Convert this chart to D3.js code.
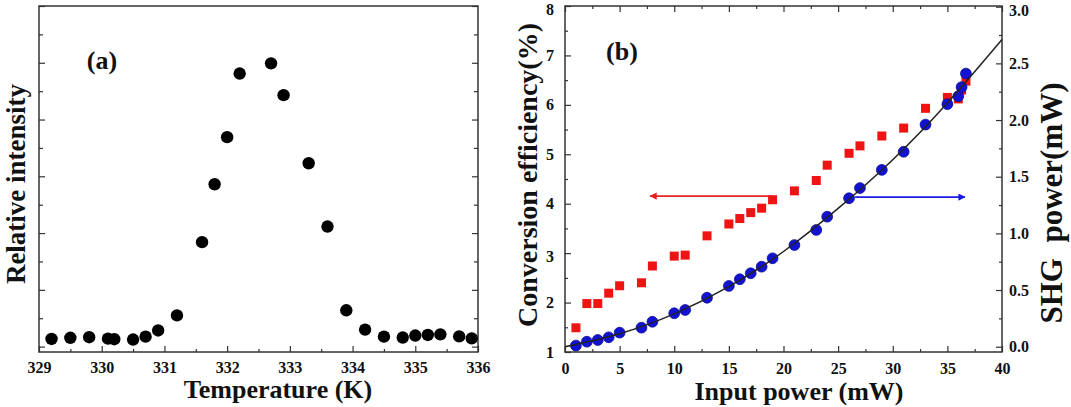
<!DOCTYPE html>
<html>
<head>
<meta charset="utf-8">
<script src="https://cdn.jsdelivr.net/npm/d3@7.9.0/dist/d3.min.js"></script>
<style>
  body { margin: 0; background: #fff; }
</style>
</head>
<body>
<svg width="1071" height="407"></svg>
<script>
// panel (a): temperature tuning curve
const tempK = [329.2, 329.5, 329.8, 330.1, 330.2, 330.5, 330.7, 330.9, 331.2, 331.6, 331.8, 332.0, 332.2,
  332.7, 332.9, 333.3, 333.6, 333.9, 334.2, 334.5, 334.8, 335.0, 335.2, 335.4, 335.7, 335.9];
const relIntensity = [0.27, 0.31, 0.33, 0.28, 0.26, 0.25, 0.35, 0.57, 1.10, 3.68, 5.72, 7.38, 9.62,
  9.98, 8.86, 6.46, 4.23, 1.28, 0.60, 0.35, 0.32, 0.39, 0.41, 0.43, 0.36, 0.29];
const tempTicks = [329, 330, 331, 332, 333, 334, 335, 336];

// panel (b): power dependence
const inputPower = [1, 2, 3, 4, 5, 7, 8, 10, 11, 13, 15, 16, 17, 18, 19, 21, 23, 24, 26, 27, 29, 31, 33, 35, 36, 36.3, 36.7];
const convEff = [1.49, 1.98, 1.98, 2.19, 2.34, 2.40, 2.74, 2.94, 2.96, 3.35, 3.59, 3.70, 3.82, 3.91, 4.08,
  4.26, 4.47, 4.78, 5.02, 5.17, 5.37, 5.53, 5.93, 6.15, 6.12, 6.30, 6.48];
const shgPower = [0.01, 0.044, 0.059, 0.083, 0.124, 0.168, 0.22, 0.295, 0.324, 0.432, 0.536, 0.595, 0.648, 0.706, 0.78,
  0.897, 1.03, 1.147, 1.31, 1.40, 1.56, 1.72, 1.96, 2.14, 2.21, 2.29, 2.41];
// fitted curve
const fitPower = [0, 5, 10, 15, 20, 25, 30, 35, 40];
const fitShg = [0.0, 0.115, 0.29, 0.53, 0.84, 1.22, 1.65, 2.15, 2.71];
const powerTicks = [0, 5, 10, 15, 20, 25, 30, 35, 40];
const effTicks = [1, 2, 3, 4, 5, 6, 7, 8];
const shgTicks = [0, 0.5, 1, 1.5, 2, 2.5, 3];
// arrows: [x start, x end, y]
const redArrow = [18.95, 7.8, 4.155];
const blueArrow = [26.55, 36.6, 1.32];

const FONT = '"Liberation Serif", "Times New Roman", Times, serif';

let svg = d3.select("svg");
svg.append("rect").attr("width", 1071).attr("height", 407).attr("fill", "#fff");

let frameColor = "#333";

function styleAxis(g) {
  g.select(".domain").remove();
  g.attr("font-family", FONT);
  g.selectAll(".tick line").attr("stroke", frameColor).attr("stroke-width", 1.2);
  g.selectAll("text")
    .attr("fill", "#111")
    .style("font-family", FONT)
    .style("font-weight", "bold")
    .style("font-size", "16px");
}

function title(g, txt, size) {
  return g.append("text")
    .attr("text-anchor", "middle")
    .attr("fill", "#111")
    .style("font-family", FONT)
    .style("font-weight", "bold")
    .style("font-size", size + "px")
    .text(txt);
}

// ---------- panel (a) ----------
let xa = d3.scaleLinear().domain([329, 336]).range([39, 478]);
let ya = d3.scaleLinear().domain([-0.19, 12]).range([352, 6]);

let ga = svg.append("g");

ga.append("g").attr("transform", "translate(0,352)")
  .call(d3.axisBottom(xa).tickValues(d3.range(329.5, 336, 1)).tickFormat("").tickSizeInner(-3).tickSizeOuter(0))
  .call(styleAxis);
ga.append("g").attr("transform", "translate(0,352)")
  .call(d3.axisBottom(xa).tickValues(tempTicks).tickFormat(d3.format("d")).tickSizeInner(-6).tickSizeOuter(0).tickPadding(10))
  .call(styleAxis);

let yTicksA = d3.range(0, 12.01, 1);
ga.append("g").attr("transform", "translate(39,0)")
  .call(d3.axisLeft(ya).tickValues(yTicksA).tickFormat("").tickSizeOuter(0).tickSizeInner(-5))
  .call(styleAxis)
  .selectAll(".tick line").attr("x2", d => d % 2 === 0 ? 6 : 4);
ga.append("g").attr("transform", "translate(478,0)")
  .call(d3.axisRight(ya).tickValues(yTicksA).tickFormat("").tickSizeOuter(0).tickSizeInner(-5))
  .call(styleAxis)
  .selectAll(".tick line").attr("x2", d => d % 2 === 0 ? -6 : -4);

ga.append("rect").attr("x", 39).attr("y", 6).attr("width", 439).attr("height", 346)
  .attr("fill", "none").attr("stroke", frameColor).attr("stroke-width", 1.5);

ga.selectAll("circle.pt").data(tempK).join("circle")
  .attr("class", "pt")
  .attr("cx", d => xa(d))
  .attr("cy", (d, i) => ya(relIntensity[i]))
  .attr("r", 6.2)
  .attr("fill", "#000");

title(ga, "(a)", 26).attr("x", 102).attr("y", 69);
title(ga, "Temperature (K)", 26).attr("x", 278).attr("y", 398);
title(ga, "Relative intensity", 27).attr("transform", "translate(25,184) rotate(-90)");

// ---------- panel (b) ----------
let xb = d3.scaleLinear().domain([0, 40]).range([565, 1002]);
let yl = d3.scaleLinear().domain([1, 8]).range([352, 6]);
let yr = d3.scaleLinear().domain([0, 3]).range([346.7, 6.7]);

let gb = svg.append("g");

gb.append("g").attr("transform", "translate(0,352)")
  .call(d3.axisBottom(xb).tickValues(d3.range(2.5, 40, 5)).tickFormat("").tickSizeInner(-3).tickSizeOuter(0))
  .call(styleAxis);
gb.append("g").attr("transform", "translate(0,352)")
  .call(d3.axisBottom(xb).tickValues(powerTicks).tickSizeInner(-6).tickSizeOuter(0).tickPadding(11))
  .call(styleAxis);
gb.append("g").attr("transform", "translate(0,6)")
  .call(d3.axisTop(xb).tickValues(d3.range(2.5, 40, 5)).tickFormat("").tickSizeInner(-3).tickSizeOuter(0))
  .call(styleAxis);
gb.append("g").attr("transform", "translate(0,6)")
  .call(d3.axisTop(xb).tickValues(powerTicks).tickFormat("").tickSizeInner(-6).tickSizeOuter(0))
  .call(styleAxis);

gb.append("g").attr("transform", "translate(565,0)")
  .call(d3.axisLeft(yl).tickValues(d3.range(1.5, 8, 1)).tickFormat("").tickSizeInner(-3).tickSizeOuter(0))
  .call(styleAxis);
gb.append("g").attr("transform", "translate(565,0)")
  .call(d3.axisLeft(yl).tickValues(effTicks).tickFormat(d3.format("d")).tickSizeInner(-6).tickSizeOuter(0).tickPadding(11))
  .call(styleAxis);

gb.append("g").attr("transform", "translate(1002,0)")
  .call(d3.axisRight(yr).tickValues(d3.range(0.25, 3, 0.5)).tickFormat("").tickSizeInner(-3).tickSizeOuter(0))
  .call(styleAxis);
gb.append("g").attr("transform", "translate(1002,0)")
  .call(d3.axisRight(yr).tickValues(shgTicks).tickFormat(d3.format(".1f")).tickSizeInner(-6).tickSizeOuter(0).tickPadding(7))
  .call(styleAxis);

// keep the top labels inside the picture
gb.selectAll(".tick text").filter(d => d === 8 || d === 3).attr("dy", "0.55em");

gb.append("rect").attr("x", 565).attr("y", 6).attr("width", 437).attr("height", 346)
  .attr("fill", "none").attr("stroke", frameColor).attr("stroke-width", 1.5);

// red squares: conversion efficiency (left axis)
let sq = 9;
gb.selectAll("rect.eff").data(inputPower).join("rect")
  .attr("class", "eff")
  .attr("x", d => xb(d) - sq / 2)
  .attr("y", (d, i) => yl(convEff[i]) - sq / 2)
  .attr("width", sq).attr("height", sq)
  .attr("fill", "#ee1414");

// blue circles: SHG power (right axis)
gb.selectAll("circle.shg").data(inputPower).join("circle")
  .attr("class", "shg")
  .attr("cx", d => xb(d))
  .attr("cy", (d, i) => yr(shgPower[i]))
  .attr("r", 5.4)
  .attr("fill", "#1212d4")
  .attr("stroke", "#0a0a90").attr("stroke-width", 0.8);

let fitLine = d3.line()
  .x(d => xb(d[0]))
  .y(d => yr(d[1]))
  .curve(d3.curveNatural);
gb.append("path")
  .attr("d", fitLine(fitPower.map((p, i) => [p, fitShg[i]])))
  .attr("fill", "none").attr("stroke", "#222").attr("stroke-width", 1.5);

// arrows
let defs = svg.append("defs");
[["redHead", "#e52020"], ["blueHead", "#1a1ae0"]].forEach(([id, c]) => {
  defs.append("marker").attr("id", id)
    .attr("viewBox", "0 0 10 10").attr("refX", 9).attr("refY", 5)
    .attr("markerWidth", 6).attr("markerHeight", 4).attr("orient", "auto")
    .append("path").attr("d", "M0,0 L10,5 L0,10 Z").attr("fill", c);
});
gb.append("line")
  .attr("x1", xb(redArrow[0])).attr("x2", xb(redArrow[1]))
  .attr("y1", yl(redArrow[2])).attr("y2", yl(redArrow[2]))
  .attr("stroke", "#e52020").attr("stroke-width", 1.8).attr("marker-end", "url(#redHead)");
gb.append("line")
  .attr("x1", xb(blueArrow[0])).attr("x2", xb(blueArrow[1]))
  .attr("y1", yr(blueArrow[2])).attr("y2", yr(blueArrow[2]))
  .attr("stroke", "#1a1ae0").attr("stroke-width", 1.8).attr("marker-end", "url(#blueHead)");

title(gb, "(b)", 26).attr("x", 622).attr("y", 60);
title(gb, "Input power (mW)", 26).attr("x", 799).attr("y", 400);
title(gb, "Conversion efficiency(%)", 28).attr("transform", "translate(537,175) rotate(-90)");
title(gb, "SHG  power(mW)", 31).attr("xml:space", "preserve")
  .attr("transform", "translate(1062,203) rotate(-90)");
</script>
</body>
</html>
